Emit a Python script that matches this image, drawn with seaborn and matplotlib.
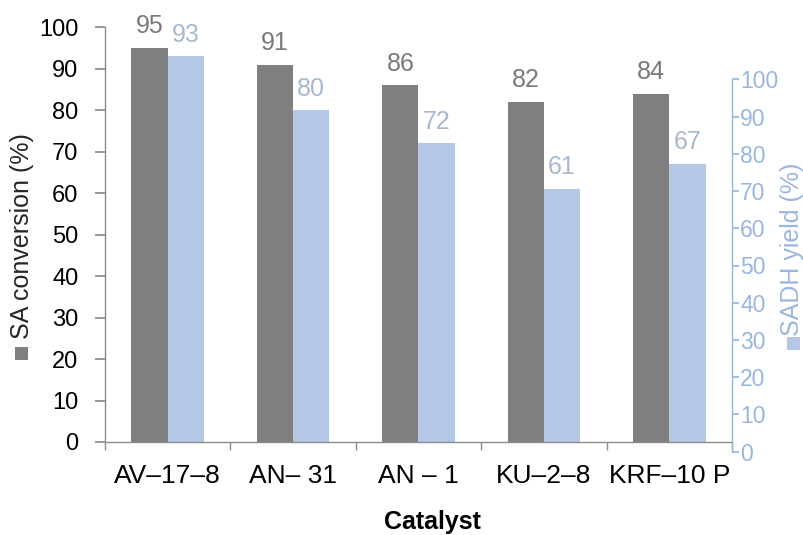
import numpy as np
import pandas as pd
import matplotlib
matplotlib.use('Agg')
import matplotlib.pyplot as plt
from matplotlib.patches import Rectangle
import seaborn as sns

# chart data
catalysts = ['AV\u201317\u20138', 'AN\u2013 31', 'AN \u2013 1', 'KU\u20132\u20138', 'KRF\u201310 P']
conversion = [95, 91, 86, 82, 84]
sadh_yield = [93, 80, 72, 61, 67]
series_names = ['SA conversion', 'SADH yield']

gray = '#7f7f7f'
light = '#b4c7e7'
axis_blue = '#9ab6df'
spine_gray = '#8c8c8c'

df = pd.DataFrame({
    'Catalyst': catalysts * 2,
    'Value': conversion + sadh_yield,
    'Series': [series_names[0]] * len(catalysts) + [series_names[1]] * len(catalysts),
})

sns.set_theme(style='white')
plt.rcParams['font.family'] = ['Liberation Sans', 'DejaVu Sans']

fig = plt.figure(figsize=(8.04, 5.35), dpi=100)
W, H = 804, 535

# main axis (left scale)
ax = fig.add_axes([105 / W, 1 - 442 / H, 627 / W, (442 - 27.3) / H])
sns.barplot(data=df, x='Catalyst', y='Value', hue='Series', palette=[gray, light],
            width=0.58, saturation=1, ax=ax, legend=False, linewidth=0)

ax.set_ylim(0, 100)
ax.set_yticks(np.arange(0, 101, 10))
ax.set_xlim(-0.5, len(catalysts) - 0.5)
ax.set_xlabel('')
ax.set_ylabel('')
for s in ['top', 'right']:
    ax.spines[s].set_visible(False)
for s in ['left', 'bottom']:
    ax.spines[s].set_color(spine_gray)
    ax.spines[s].set_linewidth(1.0)
ax.tick_params(axis='y', which='major', left=True, length=7, color=spine_gray,
               labelsize=17, labelcolor='black', pad=12)
ax.set_xticks(np.arange(-0.5, len(catalysts), 1), minor=True)
ax.tick_params(axis='x', which='major', length=0, labelsize=19, labelcolor='black', pad=16)
ax.tick_params(axis='x', which='minor', bottom=True, length=6, color=spine_gray)

# value labels above bars
label_colors = ['#7a7a7a', '#a8b8d0']
for cont, col in zip(ax.containers, label_colors):
    ax.bar_label(cont, fmt='%g', padding=7, fontsize=18, color=col)

# secondary axis (right scale, decorative as in the original)
ax2 = fig.add_axes([105 / W, 1 - 451.7 / H, 627 / W, (451.7 - 79.3) / H])
ax2.patch.set_alpha(0)
ax2.set_xticks([])
ax2.set_ylim(0, 100)
ax2.yaxis.tick_right()
ax2.set_yticks(np.arange(0, 101, 10))
for s in ['top', 'left', 'bottom']:
    ax2.spines[s].set_visible(False)
ax2.spines['right'].set_color(axis_blue)
ax2.spines['right'].set_linewidth(1.0)
ax2.tick_params(axis='y', right=True, length=5, color=axis_blue,
                labelsize=16.5, labelcolor=axis_blue, pad=1)

# axis titles with colour keys
fig.text(22 / W, 1 - 236 / H, 'SA conversion (%)', rotation=90, fontsize=18,
         color='#262626', ha='center', va='center')
fig.add_artist(Rectangle((15 / W, 1 - 360 / H), 13 / W, 13 / H,
                         transform=fig.transFigure, color=gray, lw=0))
fig.text(792 / W, 1 - 249 / H, 'SADH yield (%)', rotation=90, fontsize=18,
         color=axis_blue, ha='center', va='center')
fig.add_artist(Rectangle((787 / W, 1 - 350 / H), 13 / W, 13 / H,
                         transform=fig.transFigure, color=light, lw=0))
fig.text(432 / W, 1 - 522 / H, 'Catalyst', fontsize=18, fontweight='bold',
         color='black', ha='center', va='center')

fig.savefig('out.png', dpi=100)
